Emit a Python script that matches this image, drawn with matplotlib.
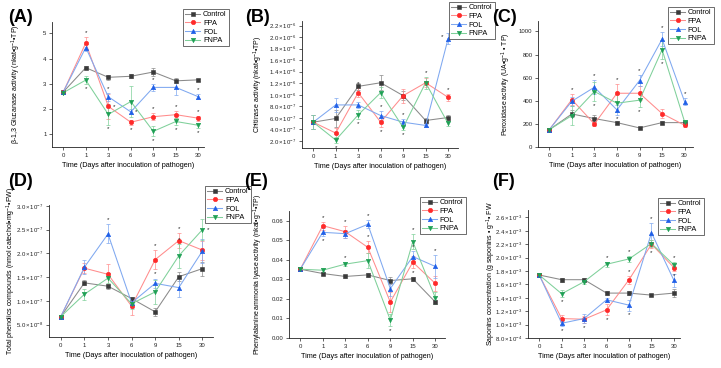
import numpy as np
import matplotlib
matplotlib.use('Agg')
import matplotlib.pyplot as plt
from matplotlib.ticker import FixedLocator, FuncFormatter

plt.rcParams['font.family'] = ['Liberation Sans', 'DejaVu Sans']
plt.rcParams['mathtext.fontset'] = 'custom'
plt.rcParams['mathtext.rm'] = 'Liberation Sans'
plt.rcParams['mathtext.it'] = 'Liberation Sans:italic'
plt.rcParams['mathtext.bf'] = 'Liberation Sans:bold'
plt.rcParams['mathtext.default'] = 'regular'

days = ['0', '1', '3', '6', '9', '15', '30']
groups = ['Control', 'FPA', 'FOL', 'FNPA']

# (A) beta-1,3 glucanase
glu = {
    'Control': [2.68, 3.64, 3.26, 3.30, 3.47, 3.12, 3.16],
    'FPA':     [2.68, 4.62, 2.11, 1.48, 1.70, 1.78, 1.64],
    'FOL':     [2.68, 4.44, 2.49, 1.89, 2.86, 2.86, 2.49],
    'FNPA':    [2.65, 3.15, 1.79, 2.30, 1.12, 1.51, 1.36],
}
glu_err = {
    'Control': [0.05, 0.05, 0.10, 0.08, 0.15, 0.10, 0.05],
    'FPA':     [0.05, 0.25, 0.50, 0.10, 0.15, 0.15, 0.10],
    'FOL':     [0.05, 0.15, 0.15, 0.10, 0.15, 0.30, 0.10],
    'FNPA':    [0.05, 0.15, 0.40, 0.60, 0.20, 0.15, 0.10],
}
glu_stars = [('FPA', 1, 'up'), ('FNPA', 1, 'down'), ('FOL', 2, 'up'), ('FPA', 2, 'right'),
             ('FNPA', 2, 'down'), ('FOL', 3, 'right'), ('FPA', 3, 'down'), ('FOL', 4, 'up'),
             ('FPA', 4, 'up'), ('FNPA', 4, 'down'), ('FPA', 5, 'up'), ('FNPA', 5, 'down'),
             ('FOL', 6, 'up'), ('FPA', 6, 'up'), ('FNPA', 6, 'down')]

# (B) chitinase, x 1e-7
chi = {
    'Control': [5.25, 5.89, 11.46, 12.09, 9.85, 5.54, 6.06],
    'FPA':     [5.25, 3.36, 10.37, 5.25, 9.85, 12.09, 9.56],
    'FOL':     [5.25, 8.24, 8.24, 6.40, 5.25, 4.68, 19.74],
    'FNPA':    [5.25, 2.15, 6.52, 10.37, 4.33, 12.09, 5.02],
}
chi_err = {
    'Control': [1.2, 1.5, 0.6, 1.3, 0.8, 0.5, 0.5],
    'FPA':     [1.2, 0.8, 0.8, 0.9, 1.2, 0.8, 0.6],
    'FOL':     [1.2, 1.2, 0.5, 0.8, 0.6, 0.3, 1.0],
    'FNPA':    [1.2, 0.5, 0.8, 1.0, 0.5, 1.0, 0.5],
}
chi_stars = [('FNPA', 1, 'down'), ('FPA', 2, 'up'), ('FNPA', 2, 'down'), ('FOL', 3, 'up'),
             ('FPA', 3, 'down'), ('FOL', 4, 'up'), ('FNPA', 4, 'down'), ('FNPA', 5, 'up'),
             ('FOL', 6, 'left'), ('FPA', 6, 'up')]

# (C) peroxidase
pox = {
    'Control': [150, 286, 246, 211, 165, 211, 211],
    'FPA':     [150, 410, 199, 465, 465, 289, 188],
    'FOL':     [150, 396, 517, 321, 575, 933, 391],
    'FNPA':    [150, 272, 480, 379, 405, 842, 217],
}
pox_err = {
    'Control': [10, 30, 30, 10, 10, 10, 10],
    'FPA':     [10, 50, 20, 80, 60, 40, 15],
    'FOL':     [10, 40, 60, 40, 50, 60, 30],
    'FNPA':    [10, 80, 80, 80, 60, 80, 15],
}
pox_stars = [('FPA', 1, 'up'), ('FOL', 2, 'up'), ('FNPA', 2, 'down'), ('FPA', 3, 'up'),
             ('FOL', 3, 'down'), ('FOL', 4, 'up'), ('FNPA', 4, 'down'), ('FOL', 5, 'up'),
             ('FNPA', 5, 'down'), ('FOL', 6, 'up')]

# (D) total phenolics, x 1e-7
phe = {
    'Control': [0.67, 1.38, 1.31, 1.05, 0.77, 1.51, 1.68],
    'FPA':     [0.67, 1.69, 1.56, 0.89, 1.87, 2.27, 2.07],
    'FOL':     [0.67, 1.71, 2.41, 0.96, 1.37, 1.28, 2.05],
    'FNPA':    [0.67, 1.14, 1.48, 0.94, 1.19, 1.95, 2.50],
}
phe_err = {
    'Control': [0.03, 0.05, 0.05, 0.04, 0.08, 0.10, 0.15],
    'FPA':     [0.03, 0.10, 0.22, 0.18, 0.20, 0.15, 0.20],
    'FOL':     [0.03, 0.15, 0.20, 0.10, 0.10, 0.20, 0.25],
    'FNPA':    [0.03, 0.12, 0.10, 0.10, 0.25, 0.25, 0.22],
}
phe_stars = [('FOL', 2, 'up'), ('FPA', 4, 'up'), ('FOL', 4, 'up'), ('FPA', 5, 'up'),
             ('FNPA', 5, 'up'), ('FNPA', 6, 'right')]

# (E) PAL
pal = {
    'Control': [0.0352, 0.0330, 0.0315, 0.0323, 0.0294, 0.0303, 0.0184],
    'FPA':     [0.0352, 0.0575, 0.0544, 0.0464, 0.0184, 0.0388, 0.0279],
    'FOL':     [0.0352, 0.0541, 0.0534, 0.0582, 0.0253, 0.0417, 0.0366],
    'FNPA':    [0.0352, 0.0347, 0.0378, 0.0396, 0.0092, 0.0493, 0.0206],
}
pal_err = {
    'Control': [0.001, 0.001, 0.001, 0.001, 0.002, 0.001, 0.001],
    'FPA':     [0.001, 0.002, 0.003, 0.003, 0.005, 0.003, 0.004],
    'FOL':     [0.001, 0.002, 0.002, 0.002, 0.004, 0.003, 0.006],
    'FNPA':    [0.001, 0.001, 0.001, 0.004, 0.003, 0.004, 0.003],
}
pal_stars = [('FPA', 1, 'up'), ('FOL', 1, 'down'), ('FPA', 2, 'up'), ('FNPA', 2, 'up'),
             ('FOL', 3, 'up'), ('FPA', 3, 'up'), ('FNPA', 4, 'down'), ('FNPA', 5, 'up'),
             ('FOL', 5, 'up'), ('FPA', 5, 'down'), ('FOL', 6, 'up')]

# (F) saponins, x 1e-3
sap = {
    'Control': [1.74, 1.67, 1.67, 1.47, 1.47, 1.44, 1.47],
    'FPA':     [1.74, 1.09, 1.08, 1.22, 1.67, 2.20, 1.85],
    'FOL':     [1.74, 1.02, 1.09, 1.37, 1.29, 2.37, 1.66],
    'FNPA':    [1.74, 1.46, 1.64, 1.90, 1.98, 2.21, 1.89],
}
sap_err = {
    'Control': [0.02, 0.03, 0.03, 0.03, 0.03, 0.02, 0.06],
    'FPA':     [0.02, 0.05, 0.05, 0.08, 0.06, 0.06, 0.05],
    'FOL':     [0.02, 0.04, 0.07, 0.03, 0.08, 0.15, 0.10],
    'FNPA':    [0.02, 0.05, 0.03, 0.04, 0.04, 0.05, 0.04],
}
sap_stars = [('FNPA', 1, 'down'), ('FOL', 1, 'down'), ('FOL', 2, 'down'), ('FNPA', 3, 'up'),
             ('FPA', 3, 'down'), ('FNPA', 4, 'up'), ('FPA', 4, 'up'), ('FOL', 4, 'down'),
             ('FOL', 5, 'up'), ('FPA', 5, 'down'), ('FNPA', 6, 'up'), ('FPA', 6, 'down')]

line_col = {'Control': '#8a8a8a', 'FPA': '#ff8c8c', 'FOL': '#7fa8f0', 'FNPA': '#7fd09a'}
mark_col = {'Control': '#3a3a3a', 'FPA': '#ff2a2a', 'FOL': '#1f5fe8', 'FNPA': '#1fa055'}
markers = {'Control': 's', 'FPA': 'o', 'FOL': '^', 'FNPA': 'v'}


def sci_fmt(v, pos):
    e = int(np.floor(np.log10(abs(v)) + 1e-9))
    return r'$%.1f\times10^{%d}$' % (v / 10 ** e, e)


panels = [
    dict(tag='(A)', vals=glu, errs=glu_err, stars=glu_stars, scale=1,
         ylabel=r'β-1,3 Glucanase activity (nkat•g$^{-1}$•TP)',
         yticks=[1, 2, 3, 4, 5], ylim=(0.5, 5.45), fmt=None,
         rect=[52, 22, 204, 147], xr=6.25, tagpos=(8, 17), leg=(183, 9), ylx=-0.19),
    dict(tag='(B)', vals=chi, errs=chi_err, stars=chi_stars, scale=1e-7,
         ylabel=r'Chitinase activity (nkat•g$^{-1}$•TP)',
         yticks=list(np.arange(2, 23, 2) * 1e-7), ylim=(0.77e-7, 2.28e-6), fmt=sci_fmt,
         rect=[302, 21, 458, 148], xr=6.44, tagpos=(245, 17), leg=(449, 2), ylx=-0.235),
    dict(tag='(C)', vals=pox, errs=pox_err, stars=pox_stars, scale=1,
         ylabel=r'Peroxidase activity (UA•g$^{-1}$ • TP)',
         yticks=[0, 200, 400, 600, 800, 1000], ylim=(0, 1090), fmt=None,
         rect=[538, 21, 693, 147], xr=6.37, tagpos=(492, 18), leg=(668, 7), ylx=-0.16),
    dict(tag='(D)', vals=phe, errs=phe_err, stars=phe_stars, scale=1e-7,
         ylabel=r'Total phenolics compounds (nmol catechol•mg$^{-1}$•FW)',
         yticks=list(np.arange(0.5, 3.01, 0.5) * 1e-7), ylim=(2.4e-8, 3.02e-7), fmt=sci_fmt,
         rect=[49, 205, 213, 337], xr=6.45, tagpos=(8, 182), leg=(205, 186), ylx=-0.19),
    dict(tag='(E)', vals=pal, errs=pal_err, stars=pal_stars, scale=1,
         ylabel=r'Phenylalanine ammonia lyase activity (nkat•g$^{-1}$•TP)',
         yticks=[0, 0.01, 0.02, 0.03, 0.04, 0.05, 0.06], ylim=(0, 0.065),
         fmt=FuncFormatter(lambda v, p: '%.2f' % v),
         rect=[289, 211, 445, 338], xr=6.43, tagpos=(244, 182), leg=(420, 197), ylx=-0.155),
    dict(tag='(F)', vals=sap, errs=sap_err, stars=sap_stars, scale=1e-3,
         ylabel=r'Saponins concentration (g saponins • g$^{-1}$• FW',
         yticks=list(np.arange(8, 26.1, 2) * 1e-4), ylim=(8e-4, 2.71e-3), fmt=sci_fmt,
         rect=[528, 210, 680, 338], xr=6.27, tagpos=(492, 182), leg=(658, 198), ylx=-0.2),
]

W, H = 721, 368
fig = plt.figure(figsize=(W / 100, H / 100), dpi=100)
x = np.arange(len(days))

for p in panels:
    l, t, r, b = p['rect']
    ax = fig.add_axes([l / W, 1 - b / H, (r - l) / W, (b - t) / H])
    yspan = p['ylim'][1] - p['ylim'][0]
    for g in groups:
        y = np.array(p['vals'][g]) * p['scale']
        e = np.array(p['errs'][g]) * p['scale']
        ax.errorbar(x, y, yerr=e, fmt='none', ecolor=line_col[g], elinewidth=0.5,
                    capsize=1.3, capthick=0.5, zorder=2)
        ax.plot(x, y, color=line_col[g], lw=0.75, marker=markers[g], ms=3.2,
                mfc=mark_col[g], mec=mark_col[g], mew=0.4, label=g, zorder=3)
    # significance asterisks
    for g, i, side in p['stars']:
        y = p['vals'][g][i] * p['scale']
        e = p['errs'][g][i] * p['scale']
        pad = 0.035 * yspan
        if side == 'up':
            sx, sy = i, y + e + pad
        elif side == 'down':
            sx, sy = i, y - e - pad
        elif side == 'right':
            sx, sy = i + 0.25, y
        else:
            sx, sy = i - 0.25, y + 0.02 * yspan
        ax.text(sx, sy, '*', ha='center', va='center', fontsize=4.5, color='#222222')

    ax.set_xlim(-0.5, p['xr'])
    ax.set_ylim(*p['ylim'])
    ax.set_xticks(x)
    ax.set_xticklabels(days)
    ax.yaxis.set_major_locator(FixedLocator(p['yticks']))
    if p['fmt'] is sci_fmt:
        ax.yaxis.set_major_formatter(FuncFormatter(sci_fmt))
    elif p['fmt'] is not None:
        ax.yaxis.set_major_formatter(p['fmt'])
    for s in ['top', 'right']:
        ax.spines[s].set_visible(False)
    for s in ['left', 'bottom']:
        ax.spines[s].set_linewidth(0.6)
        ax.spines[s].set_color('#222222')
    ax.tick_params(direction='out', length=2, width=0.5, labelsize=4.3, pad=2, colors='#222222')
    ax.set_xlabel('Time (Days after inoculation of pathogen)', fontsize=5.2, labelpad=3)
    ax.set_ylabel(p['ylabel'], fontsize=5)
    ax.yaxis.set_label_coords(p['ylx'], 0.5)

    lx, ly = p['leg']
    leg = ax.legend(loc='upper left', bbox_to_anchor=(lx / W, 1 - ly / H),
                    bbox_transform=fig.transFigure, fontsize=5.3, frameon=True,
                    fancybox=False, framealpha=1, edgecolor='#333333', borderpad=0.3,
                    labelspacing=0.2, handlelength=2.0, handletextpad=0.4, borderaxespad=0)
    leg.get_frame().set_linewidth(0.5)

    tx, ty = p['tagpos']
    fig.text(tx / W, 1 - ty / H, p['tag'], fontsize=13, fontweight='bold', va='center', ha='left')

fig.savefig('out.png', dpi=100)
